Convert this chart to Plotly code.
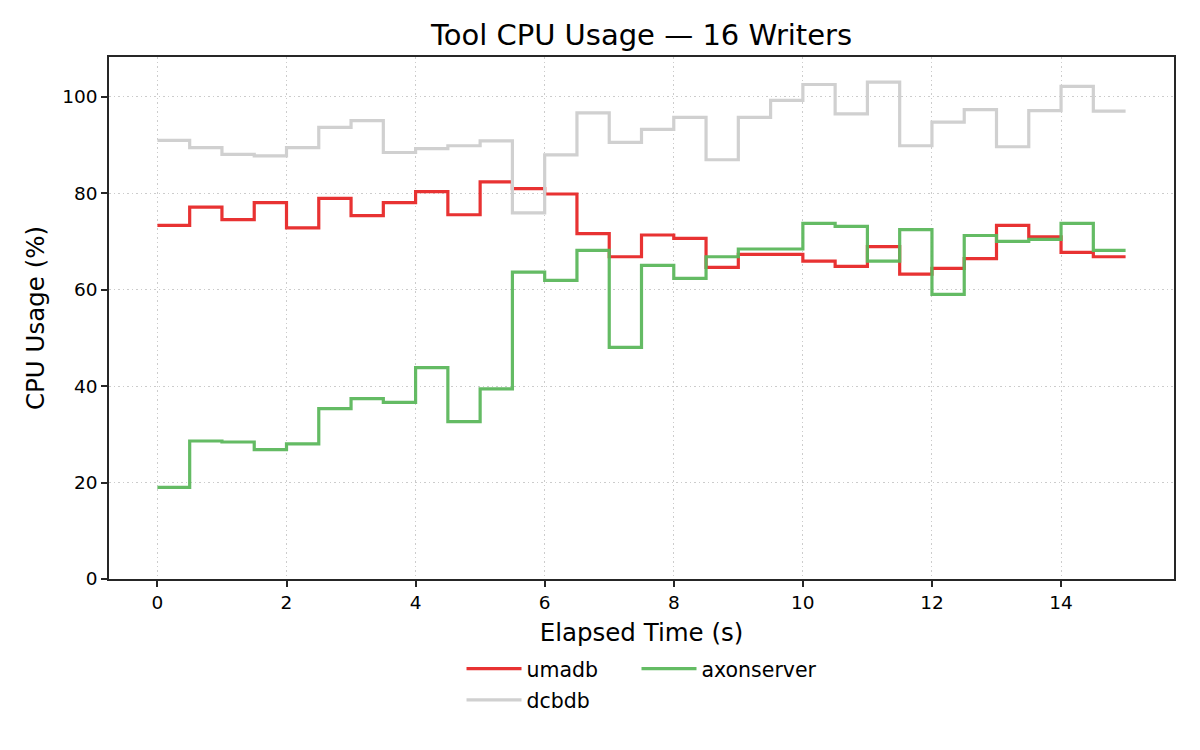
"""CPU usage of each tool while 16 writers are running, as a step chart."""

import plotly.graph_objects as go

# Elapsed time (s), one sample every half second
elapsed = [0, 0.5, 1, 1.5, 2, 2.5, 3, 3.5, 4, 4.5, 5, 5.5, 6, 6.5, 7, 7.5,
           8, 8.5, 9, 9.5, 10, 10.5, 11, 11.5, 12, 12.5, 13, 13.5, 14, 14.5, 15]

# CPU usage (%) per sample
umadb = [73.3, 77.1, 74.5, 78.0, 72.8, 78.9, 75.3, 78.0, 80.3, 75.5, 82.3, 80.9,
         79.8, 71.6, 66.8, 71.3, 70.6, 64.6, 67.3, 67.3, 65.9, 64.8, 68.9, 63.2,
         64.4, 66.4, 73.3, 70.9, 67.7, 66.8, 66.8]
dcbdb = [90.9, 89.4, 88.0, 87.7, 89.4, 93.6, 95.0, 88.4, 89.2, 89.8, 90.8, 75.9,
         87.9, 96.6, 90.5, 93.2, 95.7, 86.9, 95.7, 99.2, 102.5, 96.4, 103.0, 89.8,
         94.7, 97.3, 89.6, 97.1, 102.1, 97.0, 97.0]
axonserver = [19.0, 28.6, 28.4, 26.8, 28.0, 35.3, 37.4, 36.6, 43.8, 32.6, 39.4, 63.6,
              61.9, 68.1, 48.0, 65.0, 62.3, 66.8, 68.4, 68.4, 73.7, 73.1, 65.9, 72.4,
              59.0, 71.2, 70.0, 70.4, 73.7, 68.1, 68.1]

FONT = "DejaVu Sans"

fig = go.Figure()

# legend laid out like a two-column grid: umadb | axonserver, then dcbdb
fig.add_trace(go.Scatter(x=elapsed, y=umadb, name="umadb", mode="lines",
                         line=dict(color="#e83232", width=3.2, shape="hv"),
                         legend="legend"))
fig.add_trace(go.Scatter(x=elapsed, y=dcbdb, name="dcbdb", mode="lines",
                         line=dict(color="#d0d0d0", width=3.2, shape="hv"),
                         legend="legend2"))
fig.add_trace(go.Scatter(x=elapsed, y=axonserver, name="axonserver", mode="lines",
                         line=dict(color="#5cb85c", width=3.2, shape="hv"),
                         opacity=0.95, legend="legend3"))

axis_style = dict(
    showline=True, linecolor="#262626", linewidth=1.6, mirror=True,
    ticks="outside", ticklen=6, tickwidth=1.6, tickcolor="#262626",
    showgrid=True, gridcolor="#cccccc", griddash="1.5px,3px", gridwidth=1.2,
    zeroline=False, automargin=False,
    tickfont=dict(family=FONT, size=18.5, color="black"),
)

fig.update_xaxes(range=[-0.75, 15.75], tickvals=[0, 2, 4, 6, 8, 10, 12, 14],
                 title=dict(text="Elapsed Time (s)", standoff=12,
                            font=dict(family=FONT, size=24.5, color="black")),
                 **axis_style)
fig.update_yaxes(range=[0, 108.2], tickvals=[0, 20, 40, 60, 80, 100],
                 title=dict(text="CPU Usage (%)", standoff=11,
                            font=dict(family=FONT, size=24.5, color="black")),
                 **axis_style)

legend_style = dict(
    orientation="h", xanchor="left", yanchor="middle",
    font=dict(family=FONT, size=20.5, color="black"),
    bgcolor="rgba(0,0,0,0)", itemwidth=55,
)

# the page puts the figure 8 px in from the top left corner
fig.update_layout(
    width=1200, height=750,
    margin=dict(l=101, r=34, t=49, b=179),
    paper_bgcolor="white", plot_bgcolor="white",
    font=dict(family=FONT, color="black"),
    title=dict(text="Tool CPU Usage — 16 Writers", x=0.5, xref="paper",
               y=1 - 27 / 750, yanchor="middle",
               font=dict(family=FONT, size=29, color="black")),
    legend=dict(x=0.331, y=-0.172, **legend_style),
    legend2=dict(x=0.331, y=-0.232, **legend_style),
    legend3=dict(x=0.4953, y=-0.172, **legend_style),
    showlegend=True,
)

fig.write_html("out.html")
